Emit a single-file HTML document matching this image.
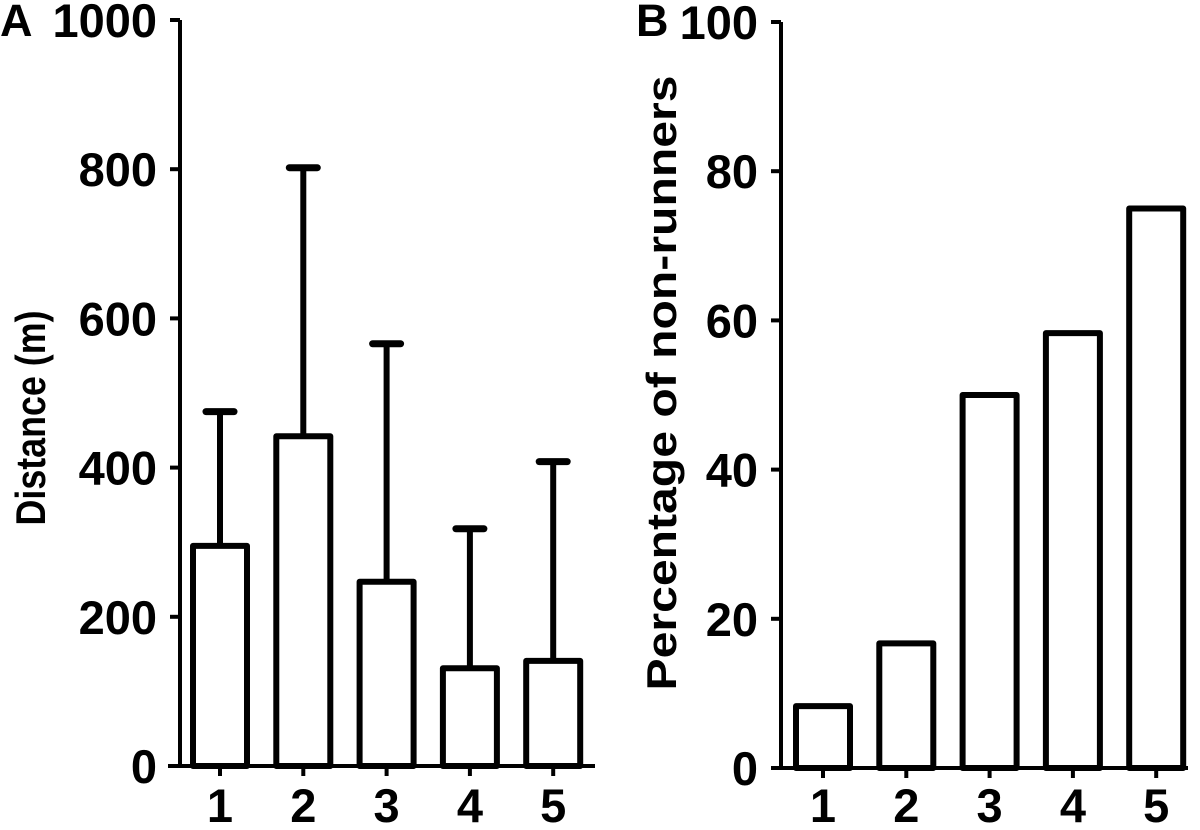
<!DOCTYPE html>
<html><head><meta charset="utf-8"><style>
body{margin:0;background:#fff}
svg text{font-family:"Liberation Sans",Arial,sans-serif;font-weight:bold;fill:#000}
</style></head><body>
<svg id="c" width="1200" height="825" viewBox="0 0 1200 825"></svg>
<script>
const categories=["1","2","3","4","5"];
const distanceMeans=[295,442,247,131,141];
const distanceErrTops=[475,802,566,318,408];
const percentValues=[8.3,16.7,50,58.3,75];
const leftTicks=[0,200,400,600,800,1000];
const rightTicks=[0,20,40,60,80,100];
const NS="http://www.w3.org/2000/svg";
const svg=document.getElementById('c');
function mk(tag,attrs,parent){const e=document.createElementNS(NS,tag);for(const k in attrs)e.setAttribute(k,attrs[k]);(parent||svg).appendChild(e);return e;}
function panel(o){
  const g=mk('g',{});
  
  
  const y=v=>o.y0-(v/o.max)*(o.y0-o.yTop);
  const x=i=>o.x1+i*o.step;
  o.values.forEach((v,i)=>{
    if(o.err){
      const l=mk('line',{x1:x(i),x2:x(i),y1:y(v),y2:y(o.err[i]),stroke:'#000','stroke-width':6},g);
      
      
      const c=mk('line',{x1:x(i)-14,x2:x(i)+14,y1:y(o.err[i]),y2:y(o.err[i]),stroke:'#000','stroke-width':7,'stroke-linecap':'round'},g);
      
      
    }
    const r=mk('rect',{x:x(i)-27,y:y(v),width:54,height:o.y0-y(v),fill:'#fff',stroke:'#000','stroke-width':6,'stroke-linejoin':'round'},g);
    
    
  });
  const ya=mk('line',{x1:o.ax,x2:o.ax,y1:o.yTop,y2:o.y0+2,stroke:'#000','stroke-width':4},g);
  
  
  const xa=mk('line',{x1:o.xa0,x2:o.xa1,y1:o.y0,y2:o.y0,stroke:'#000','stroke-width':4},g);
  
  
  o.ticks.forEach(t=>{
    mk('line',{x1:o.ax-10,x2:o.ax,y1:y(t),y2:y(t),stroke:'#000','stroke-width':4},g);
    const tx=mk('text',{x:o.ax-23,y:y(t)+17,'text-anchor':'end','font-size':47},g);
    tx.textContent=t;
    
    
  });
  categories.forEach((c,i)=>{
    mk('line',{x1:x(i),x2:x(i),y1:o.y0,y2:o.y0+10,stroke:'#000','stroke-width':4},g);
    const tx=mk('text',{x:x(i),y:822,'text-anchor':'middle','font-size':47},g);
    tx.textContent=c;
    
    
  });
  const t=mk('text',{transform:`translate(${o.tx},${o.ty}) rotate(-90)`,'text-anchor':'middle','font-size':42,textLength:o.tl,lengthAdjust:'spacingAndGlyphs'},g);
  t.textContent=o.title;
  
  
  const p=mk('text',{x:o.px,y:36,'font-size':45},g);
  p.textContent=o.letter;
  
  
}
panel({name:'panel-a-distance',values:distanceMeans,err:distanceErrTops,max:1000,ticks:leftTicks,y0:766,yTop:20,ax:180,xa0:168,xa1:595,x1:220,step:83.3,title:'Distance (m)',tx:45,ty:418,tl:215,letter:'A',px:0});
panel({name:'panel-b-percentage',values:percentValues,err:null,max:100,ticks:rightTicks,y0:768,yTop:22,ax:781,xa0:772,xa1:1188,x1:823,step:83.3,title:'Percentage of non-runners',tx:676,ty:383,tl:615,letter:'B',px:636});
</script>
</body></html>
